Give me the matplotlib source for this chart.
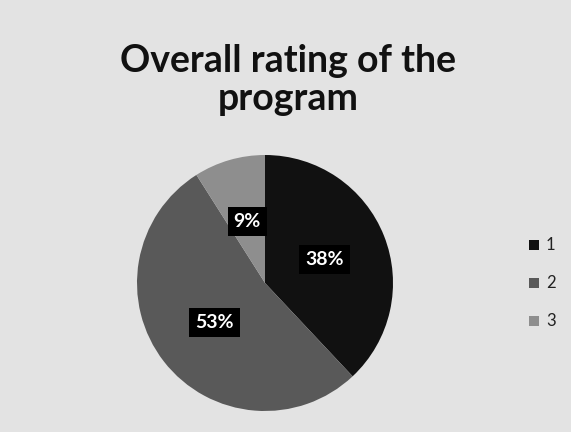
import matplotlib.pyplot as plt
import numpy as np

plt.rcParams['font.family'] = ['Lato', 'DejaVu Sans']

title = 'Overall rating of the\nprogram'
categories = ['1', '2', '3']
shares = [38, 53, 9]
colors = ['#111111', '#595959', '#8e8e8e']

fig = plt.figure(figsize=(5.71, 4.32), dpi=100, facecolor='#e3e3e3')
W, H = 571, 432
cx, cy, r = 265, 432 - 283, 128
ax = fig.add_axes([(cx - r) / W, (cy - r) / H, 2 * r / W, 2 * r / H])

wedges, _ = ax.pie(shares, colors=colors, startangle=90, counterclock=False,
                   radius=1.0, wedgeprops=dict(linewidth=0))
ax.set_xlim(-1, 1)
ax.set_ylim(-1, 1)
ax.set_aspect('equal')

for w, s in zip(wedges, shares):
    ang = np.deg2rad((w.theta1 + w.theta2) / 2)
    ax.text(0.5 * np.cos(ang), 0.5 * np.sin(ang), f'{s}%', color='white',
            fontsize=14, fontweight='bold', ha='center', va='center',
            bbox=dict(boxstyle='square,pad=0.3', fc='black', ec='none'))

fig.text(288 / W, 1 - 80 / H, title, ha='center', va='center',
         fontsize=27, fontweight='bold', linespacing=1.15, color='#111111')

for i, (c, col) in enumerate(zip(categories, colors)):
    y = 1 - (245 + 38 * i) / H
    fig.patches.append(plt.Rectangle((529 / W, y - 5 / H), 10 / W, 10 / H,
                                     transform=fig.transFigure, fc=col, ec='none'))
    fig.text(546 / W, y, c, fontsize=12, va='center', ha='left', color='#222222')

fig.savefig('out.png', dpi=100, facecolor=fig.get_facecolor())
